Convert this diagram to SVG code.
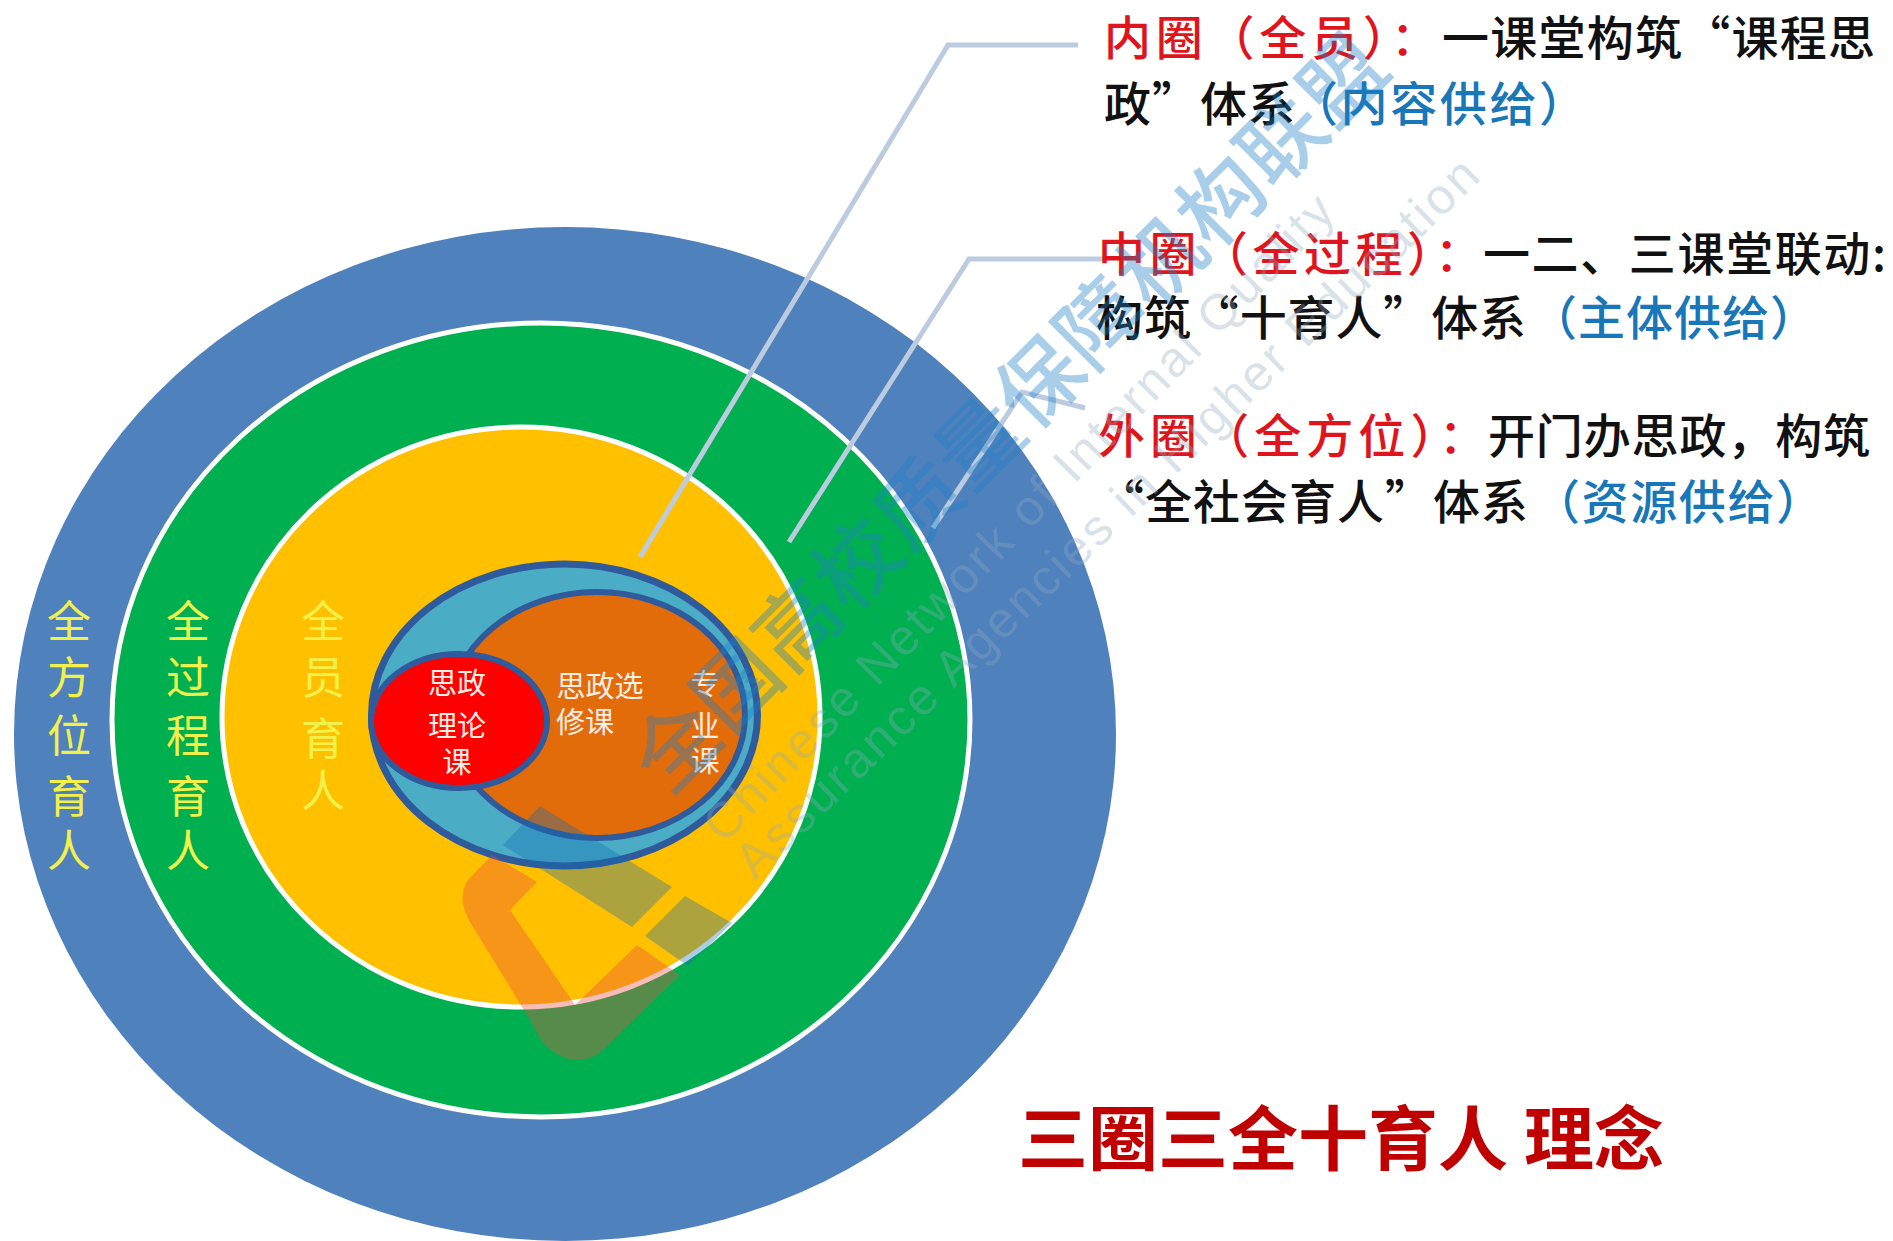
<svg xmlns="http://www.w3.org/2000/svg" width="1893" height="1241" viewBox="0 0 1893 1241">
<style>
text{font-family:"Noto Sans CJK SC","Liberation Sans",sans-serif}
.r,.k,.b{font-size:47px;font-weight:500}
.r{fill:#e0141c}.k{fill:#111}.b{fill:#1777b8}
.y{font-size:44px;fill:#f2f04a;text-anchor:middle}
.w{font-size:29px;fill:#fdeee6;text-anchor:middle}
.c{fill:none;stroke:#bccbe0;stroke-width:5}
.m{font-size:84px;font-weight:500;fill:#1d80c8;opacity:.38}
.e{font-size:50px;fill:#8fa9bd;opacity:.33;font-family:"Liberation Sans",sans-serif}
.lg{fill:#e94b40;opacity:.37}.lb{fill:#106cb7;opacity:.34}
</style>
<rect width="1893" height="1241" fill="#fff"/>
<g id="outer"><ellipse cx="565" cy="734" rx="551" ry="507" fill="#4f81bd"/>
<text class="y"><tspan x="69" y="638">全</tspan><tspan x="69" y="694">方</tspan><tspan x="69" y="752">位</tspan><tspan x="69" y="813">育</tspan><tspan x="69" y="867">人</tspan></text></g>
<g id="middle"><ellipse cx="541" cy="720" rx="429" ry="397" fill="#00b050" stroke="#fff" stroke-width="5"/>
<text class="y"><tspan x="188" y="638">全</tspan><tspan x="188" y="694">过</tspan><tspan x="188" y="752">程</tspan><tspan x="188" y="813">育</tspan><tspan x="188" y="867">人</tspan></text></g>
<g id="inner"><ellipse cx="521" cy="717" rx="299" ry="290" fill="#ffc000" stroke="#fff" stroke-width="5"/>
<text class="y"><tspan x="323" y="638">全</tspan><tspan x="323" y="694">员</tspan><tspan x="323" y="755">育</tspan><tspan x="323" y="807">人</tspan></text></g>
<g id="core"><ellipse cx="564.5" cy="715" rx="193" ry="151" fill="#4bacc6" stroke="#2f5a9c" stroke-width="7"/></g>
<g id="elective"><ellipse cx="597" cy="715" rx="148" ry="123" fill="#e36c0a" stroke="#2f5a9c" stroke-width="6"/>
<text class="w" x="600" y="697">思政选</text><text class="w" x="585" y="733">修课</text>
<text class="w"><tspan x="705" y="695">专</tspan><tspan x="705" y="737">业</tspan><tspan x="705" y="772">课</tspan></text></g>
<g id="theory"><ellipse cx="459" cy="721" rx="88" ry="67" fill="#f00" stroke="#2f5a9c" stroke-width="6"/>
<text class="w"><tspan x="457" y="694">思政</tspan><tspan x="457" y="737">理论</tspan><tspan x="457" y="773">课</tspan></text></g>
<g id="connectors">
<path class="c" d="M1078 45H948L640 557"/>
<path class="c" d="M1104 259H969L789 542"/>
<path class="c" d="M1085 408L1022 392L933 528"/>
</g>
<g id="legend">
<text class="r" x="1104" y="55" textLength="334" lengthAdjust="spacing">内圈（全员）：</text>
<text class="k" x="1442" y="55" textLength="433" lengthAdjust="spacing">一课堂构筑“课程思</text>
<text class="k" x="1104" y="121" textLength="191" lengthAdjust="spacing">政”体系</text>
<text class="b" x="1291" y="121" textLength="295" lengthAdjust="spacing">（内容供给）</text>
<text class="r" x="1098" y="271" textLength="384" lengthAdjust="spacing">中圈（全过程）：</text>
<text class="k" x="1483" y="271" textLength="403" lengthAdjust="spacing">一二、三课堂联动:</text>
<text class="k" x="1096" y="335" textLength="430" lengthAdjust="spacing">构筑“十育人”体系</text>
<text class="b" x="1530" y="335" textLength="287" lengthAdjust="spacing">（主体供给）</text>
<text class="r" x="1098" y="453" textLength="388" lengthAdjust="spacing">外圈（全方位）：</text>
<text class="k" x="1488" y="453" textLength="382" lengthAdjust="spacing">开门办思政，构筑</text>
<text class="k" x="1097" y="519" textLength="431" lengthAdjust="spacing">“全社会育人”体系</text>
<text class="b" x="1533" y="519" textLength="290" lengthAdjust="spacing">（资源供给）</text>
</g>
<g id="title"><text x="1018" y="1165" font-size="70" font-weight="700" fill="#c00000">三圈三全十育人 理念</text></g>
<g id="watermark">
<path class="lg" d="M492 855L537 882L510 910L575 1005L637 945L680 975L603 1050Q577 1072 547 1047Q540 1040 530 1020L473 927Q455 900 468 880Z"/>
<path class="lb" d="M540 806L672 887L632 927L503 845Z"/>
<path class="lb" d="M685 896L732 923L688 966L645 936Z"/>
<text class="m" transform="rotate(-45 668 797)" x="668" y="797" textLength="1026" lengthAdjust="spacing">全国高校质量保障机构联盟</text>
<text class="e" transform="rotate(-45.8 724 845)" x="724" y="845" textLength="880" lengthAdjust="spacing">Chinese Network of Internal Quality</text>
<text class="e" transform="rotate(-44 755 881)" x="755" y="881" textLength="1011" lengthAdjust="spacing">Assurance Agencies in Higher Education</text>
</g>
</svg>
